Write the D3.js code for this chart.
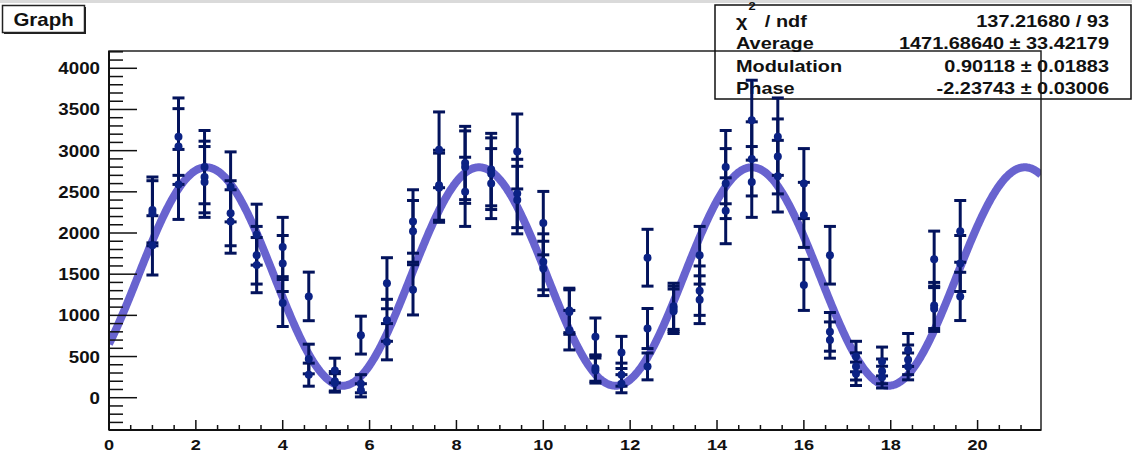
<!DOCTYPE html>
<html>
<head>
<meta charset="utf-8">
<script src="https://cdn.jsdelivr.net/npm/d3@7"></script>
<style>
  body { margin: 0; background: #fff; }
  svg text { font-family: "Liberation Sans", Arial, sans-serif; font-weight: bold; fill: #111; }
</style>
</head>
<body>
<div id="chart"></div>
<script>
// Graph data: 32 x positions, three measurements each (value +- error)
const xPos = [1.0, 1.6, 2.2, 2.8, 3.4, 4.0, 4.6, 5.2, 5.8, 6.4, 7.0, 7.6, 8.2, 8.8, 9.4, 10.0,
              10.6, 11.2, 11.8, 12.4, 13.0, 13.6, 14.2, 14.8, 15.4, 16.0, 16.6, 17.2, 17.8, 18.4, 19.0, 19.6];
const yA = [2280, 3170, 2800, 2560, 1980, 1830, 1230, 330, 760, 1390, 2140, 3010, 2850, 2770, 2990, 2120,
            1060, 740, 550, 1700, 1110, 1730, 2800, 3370, 3170, 2600, 1730, 500, 440, 580, 1680, 2020];
const yB = [2240, 3050, 2680, 2240, 1730, 1630, 470, 200, 170, 940, 2020, 2580, 2800, 2720, 2480, 1650,
            1040, 360, 280, 840, 1080, 1300, 2600, 2900, 2930, 2220, 800, 380, 320, 460, 1120, 1630];
const yC = [1850, 2590, 2620, 2140, 1610, 1150, 280, 180, 90, 680, 1310, 2550, 2500, 2600, 2400, 1570,
            820, 330, 170, 380, 1050, 1190, 2270, 2620, 2690, 1370, 700, 290, 250, 380, 1080, 1230];
const eA = [400, 470, 445, 425, 370, 360, 295, 150, 230, 310, 385, 460, 445, 440, 455, 385,
            270, 228, 195, 345, 280, 350, 445, 485, 470, 425, 350, 185, 175, 200, 343, 375];
const eB = [395, 460, 435, 395, 350, 340, 180, 118, 110, 255, 375, 425, 440, 435, 415, 340,
            270, 160, 140, 243, 275, 300, 425, 450, 455, 395, 235, 165, 150, 180, 280, 340];
const eC = [360, 425, 430, 385, 335, 285, 140, 112, 80, 220, 305, 420, 420, 425, 410, 330,
            240, 152, 110, 163, 270, 290, 400, 430, 435, 310, 220, 142, 132, 163, 275, 293];

// fit result shown in the stats box
const fitAverage = 1471.68640;
const fitModulation = 0.90118;
const fitPhase = -2.23743;
const statNames = ["Average", "Modulation", "Phase"];
const statValues = ["1471.68640 \u00b1 33.42179", "0.90118 \u00b1 0.01883", "-2.23743 \u00b1 0.03006"];
const chi2Text = "137.21680 / 93";

const yTicks = [0, 500, 1000, 1500, 2000, 2500, 3000, 3500, 4000];
const xTicks = [0, 2, 4, 6, 8, 10, 12, 14, 16, 18, 20];

const width = 1132;
const height = 453;
const stretch = 1.17; // text in the picture is a bit wide

const points = [];
xPos.forEach((x, i) => {
    points.push({ x: x, y: yA[i], e: eA[i] });
    points.push({ x: x, y: yB[i], e: eB[i] });
    points.push({ x: x, y: yC[i], e: eC[i] });
});

const svg = d3.select("#chart")
    .append("svg")
    .attr("width", width)
    .attr("height", height);

svg.append("rect").attr("width", width).attr("height", 3).attr("fill", "#dadada");

const frame = { left: 109, right: 1041, top: 51, bottom: 430 };

const x = d3.scaleLinear().domain([0, 21.46]).range([frame.left, frame.right]);
const y = d3.scaleLinear().domain([-392, 4210]).range([frame.bottom, frame.top]);

// helper for stretched text
function label(g, tx, ty, str, size, anchor) {
    return g.append("text")
        .attr("transform", `translate(${tx},${ty}) scale(${stretch},1)`)
        .attr("text-anchor", anchor || "start")
        .style("font-size", size + "px")
        .text(str);
}

// clip for the curve
svg.append("clipPath").attr("id", "frameClip")
    .append("rect")
    .attr("x", frame.left).attr("y", frame.top)
    .attr("width", frame.right - frame.left).attr("height", frame.bottom - frame.top);

// fit curve
const curveX = d3.range(0, 21.46 + 0.02, 0.02);
const fitLine = d3.line()
    .x(d => x(d))
    .y(d => y(fitAverage * (1 + fitModulation * Math.cos(d + fitPhase))));

svg.append("path")
    .datum(curveX)
    .attr("clip-path", "url(#frameClip)")
    .attr("d", fitLine)
    .attr("fill", "none")
    .attr("stroke", "#6863cf")
    .attr("stroke-width", 8);

// frame
svg.append("rect")
    .attr("x", frame.left).attr("y", frame.top)
    .attr("width", frame.right - frame.left).attr("height", frame.bottom - frame.top)
    .attr("fill", "none")
    .attr("stroke", "#222")
    .attr("stroke-width", 1.5);

// y axis: ticks drawn inward
const yAxis = svg.append("g").attr("transform", `translate(${frame.left},0)`);
yAxis.append("line").attr("y1", frame.top).attr("y2", frame.bottom)
    .attr("stroke", "#111").attr("stroke-width", 2);
yAxis.selectAll(".minor")
    .data(d3.range(-300, 4201, 100))
    .enter().append("line")
    .attr("x1", 0).attr("x2", d => d % 500 === 0 ? 28 : 14)
    .attr("y1", d => y(d)).attr("y2", d => y(d))
    .attr("stroke", "#111").attr("stroke-width", 1.5);
yTicks.forEach(t => label(yAxis, -9, y(t) + 6, String(t), 16, "end"));

// x axis: ticks drawn upward
const xAxis = svg.append("g").attr("transform", `translate(0,${frame.bottom})`);
xAxis.append("line").attr("x1", frame.left).attr("x2", frame.right)
    .attr("stroke", "#111").attr("stroke-width", 2);
xAxis.selectAll(".minor")
    .data(d3.range(0, 21.01, 0.5))
    .enter().append("line")
    .attr("x1", d => x(d)).attr("x2", d => x(d))
    .attr("y1", 0).attr("y2", d => d % 2 === 0 ? -10 : -5)
    .attr("stroke", "#111").attr("stroke-width", 1.5);
xTicks.forEach(t => label(xAxis, x(t), 19.5, String(t), 15.5, "middle"));

// stats box (no fill, frame shows through)
const stats = svg.append("g");
stats.append("rect")
    .attr("x", 715).attr("y", 5).attr("width", 416).attr("height", 94)
    .attr("fill", "none").attr("stroke", "#111").attr("stroke-width", 1.5);
const chi = stats.append("text")
    .attr("transform", `translate(736,27) scale(${stretch},1)`)
    .style("font-size", "17px");
chi.append("tspan").text("\u03c7");
chi.append("tspan").attr("dy", -17).attr("dx", 1).style("font-size", "11px").text("2");
chi.append("tspan").attr("dy", 17).attr("dx", 3).text(" / ndf");
label(stats, 1109, 27, chi2Text, 17, "end");
statNames.forEach((n, i) => {
    label(stats, 736, 49 + i * 22.5, n, 17);
    label(stats, 1109, 49 + i * 22.5, statValues[i], 17, "end");
});

// data with error bars
const pts = svg.append("g");
const barColor = "#03135c";
pts.selectAll(".bar")
    .data(points)
    .enter().append("line")
    .attr("x1", d => x(d.x)).attr("x2", d => x(d.x))
    .attr("y1", d => y(d.y - d.e)).attr("y2", d => y(d.y + d.e))
    .attr("stroke", barColor).attr("stroke-width", 3);
[-1, 1].forEach(s => {
    pts.selectAll(".cap" + s)
        .data(points)
        .enter().append("line")
        .attr("x1", d => x(d.x) - 6).attr("x2", d => x(d.x) + 6)
        .attr("y1", d => y(d.y + s * d.e)).attr("y2", d => y(d.y + s * d.e))
        .attr("stroke", barColor).attr("stroke-width", 3);
});
pts.selectAll("circle")
    .data(points)
    .enter().append("circle")
    .attr("cx", d => x(d.x)).attr("cy", d => y(d.y))
    .attr("r", 4)
    .attr("fill", "#0b2284");

// title box
const title = svg.append("g");
title.append("rect").attr("x", 4).attr("y", 7).attr("width", 82).attr("height", 27)
    .attr("fill", "#222");
title.append("rect").attr("x", 2.5).attr("y", 5.5).attr("width", 82).attr("height", 27)
    .attr("fill", "#fff").attr("stroke", "#222").attr("stroke-width", 1.5);
label(title, 43.5, 26, "Graph", 17.5, "middle");
</script>
</body>
</html>
